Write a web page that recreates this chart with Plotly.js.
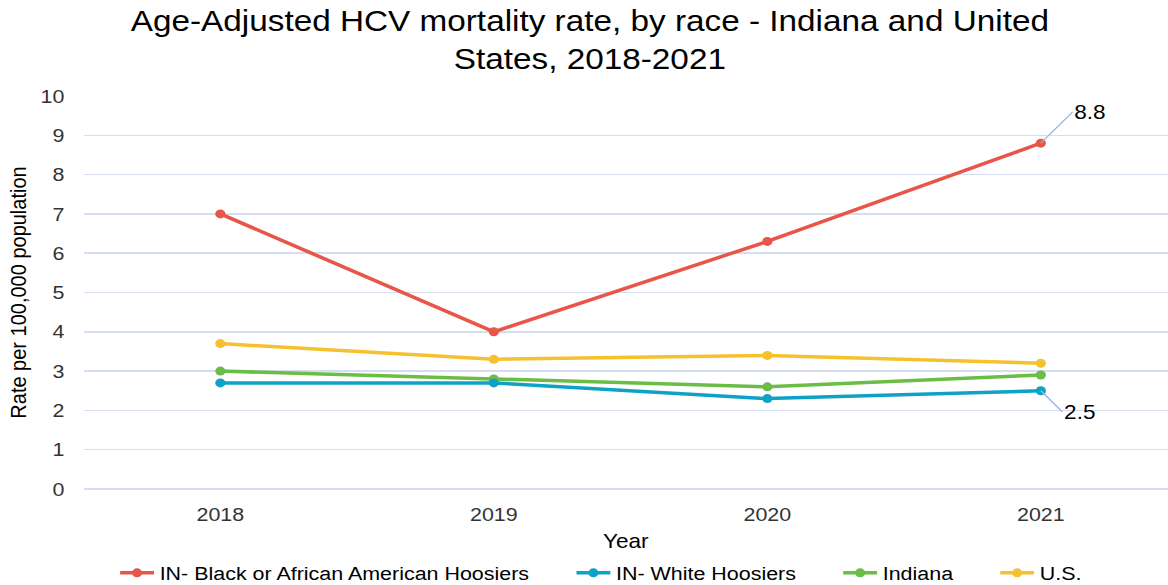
<!DOCTYPE html>
<html>
<head>
<meta charset="utf-8">
<script src="https://cdn.plot.ly/plotly-3.0.1.min.js"></script>
<style>
html,body{margin:0;padding:0;background:#fff;overflow:hidden;width:1168px;height:585px;}
#chart{width:1034px;height:585px;transform:scaleX(1.1296);transform-origin:0 0;}
</style>
</head>
<body>
<div id="chart"></div>
<script>
const years = ["2018", "2019", "2020", "2021"];
const seriesNames = ["IN- Black or African American Hoosiers", "IN- White Hoosiers", "Indiana", "U.S."];
const blackRates = [7.0, 4.0, 6.3, 8.8];
const whiteRates = [2.7, 2.7, 2.3, 2.5];
const indianaRates = [3.0, 2.8, 2.6, 2.9];
const usRates = [3.7, 3.3, 3.4, 3.2];
const colors = ["#E8564A", "#0EA2C7", "#6ABD45", "#F6C12E"];

const pad = "\u00A0\u00A0\u00A0\u00A0\u00A0\u00A0";
const allSeries = [blackRates, whiteRates, indianaRates, usRates];
const traces = allSeries.map((vals, i) => ({
  type: "scatter",
  mode: "lines+markers",
  x: years,
  y: vals,
  name: seriesNames[i] + (i < 3 ? pad : ""),
  line: {color: colors[i], width: 3.5},
  marker: {color: colors[i], size: 9},
  hoverinfo: "skip",
  legendrank: i + 1
}));
// draw order: red on top
traces.reverse();

const layout = {
  width: 1034, height: 585,
  margin: {l: 74, r: 0, t: 96, b: 96},
  paper_bgcolor: "#ffffff",
  plot_bgcolor: "#ffffff",
  font: {family: "Liberation Sans, Arial, sans-serif", color: "#333333"},
  title: {
    text: "Age-Adjusted HCV mortality rate, by race - Indiana and United<br>States, 2018-2021",
    font: {size: 29.5, color: "#000000", family: "Liberation Sans, Arial, sans-serif"},
    x: 0.505, xanchor: "center", y: 0.947, yanchor: "top"
  },
  xaxis: {
    type: "category",
    range: [-0.5, 3.465],
    showgrid: false, zeroline: false, showline: false,
    ticks: "", ticklabelstandoff: 12,
    tickfont: {size: 19, color: "#333333"},
    title: {text: "Year", font: {size: 20, color: "#000000"}, standoff: 10}
  },
  yaxis: {
    range: [0, 10],
    dtick: 1,
    showgrid: true, gridcolor: "#D5DEF0", gridwidth: 1.5,
    zeroline: true, zerolinecolor: "#D5DEF0", zerolinewidth: 1.5,
    showline: false,
    ticks: "", ticklabelstandoff: 16,
    tickfont: {size: 19, color: "#333333"},
    title: {text: "Rate per 100,000 population", font: {size: 20, color: "#000000"}, standoff: 6}
  },
  showlegend: true,
  legend: {
    orientation: "h",
    xref: "container", yref: "container",
    x: 0.098, xanchor: "left",
    y: 0.0205, yanchor: "middle",
    font: {size: 19, color: "#000000", family: "Liberation Sans, Arial, sans-serif"},
    traceorder: "normal",
    bgcolor: "rgba(0,0,0,0)"
  },
  annotations: [
    {xref: "x", yref: "y", x: 3, y: blackRates[3], text: String(blackRates[3]), showarrow: true,
     ax: 28, ay: -31, arrowhead: 0, arrowwidth: 1.2, arrowcolor: "#9EB2E2",
     font: {size: 20, color: "#000000"}, xanchor: "left"},
    {xref: "x", yref: "y", x: 3, y: whiteRates[3], text: String(whiteRates[3]), showarrow: true,
     ax: 19, ay: 21, arrowhead: 0, arrowwidth: 1.2, arrowcolor: "#9EB2E2",
     font: {size: 20, color: "#000000"}, xanchor: "left"}
  ]
};

Plotly.newPlot("chart", traces, layout, {displayModeBar: false, staticPlot: true});
</script>
</body>
</html>
